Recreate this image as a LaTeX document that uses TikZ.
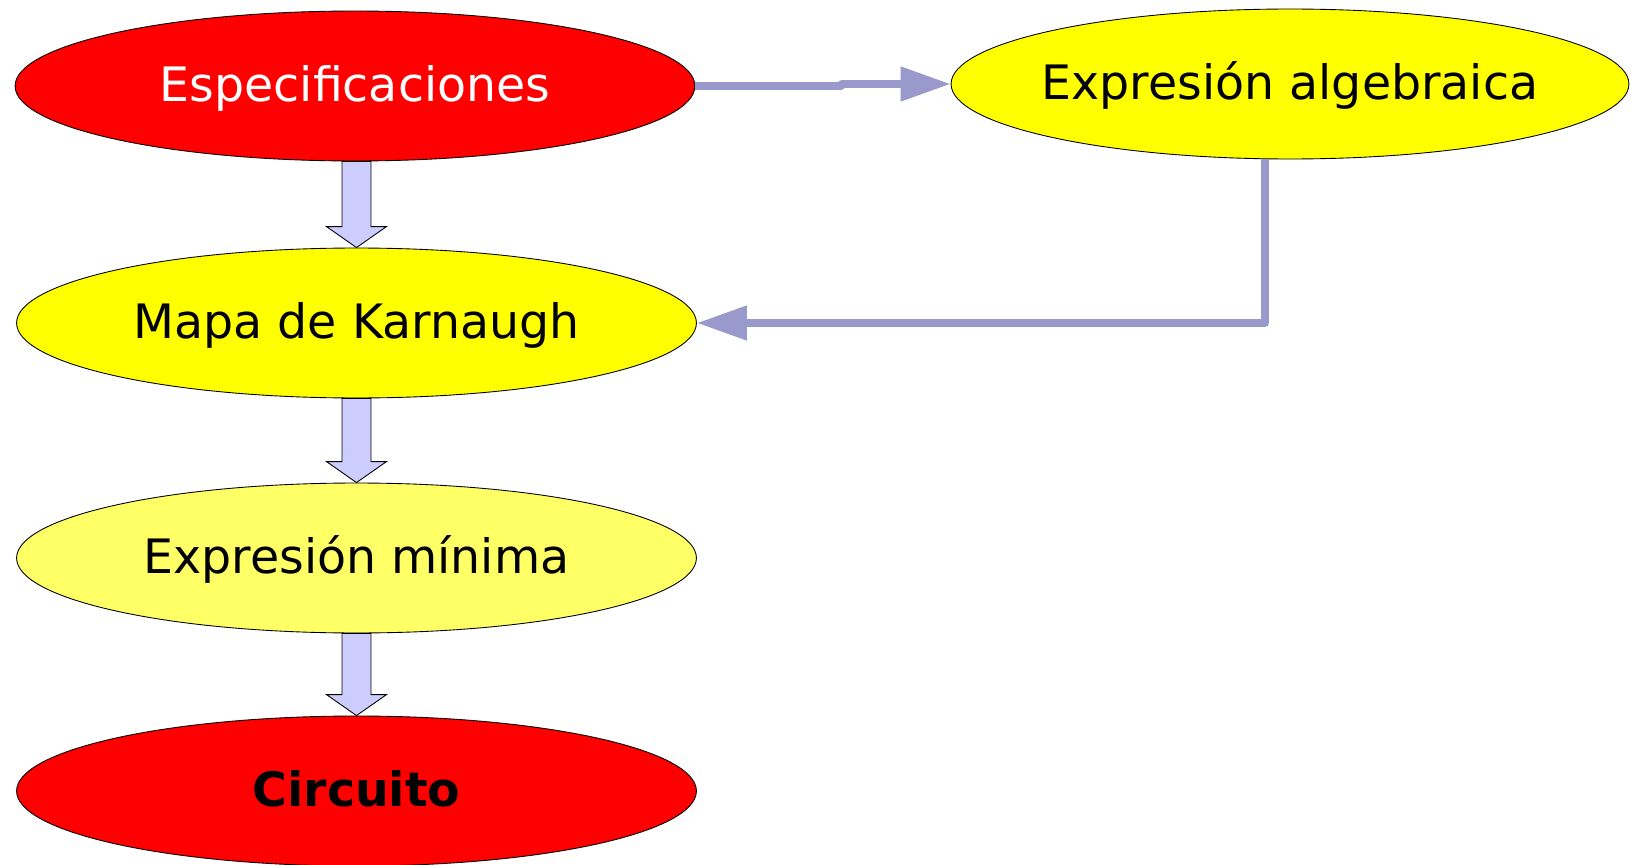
\documentclass[tikz,border=0pt]{standalone}
\usepackage{fontspec}
\setmainfont{DejaVu Sans}
\usetikzlibrary{shapes.geometric, calc, arrows.meta}

\definecolor{flowred}{HTML}{FF0000}
\definecolor{flowyellow}{HTML}{FFFF00}
\definecolor{flowpale}{HTML}{FFFF66}
\definecolor{linkblue}{HTML}{9999CC}
\definecolor{blockfill}{HTML}{CCCCFF}

\tikzset{
  stage/.style={ellipse, draw=black, line width=0.5pt, inner ysep=0pt, inner xsep=-2cm,
    minimum width=13.6cm, minimum height=3cm, text height=24pt, text depth=6.5pt,
    font=\fontsize{27}{32}\selectfont},
  link/.style={draw=linkblue, line width=4.3pt, line join=round,
    -{Triangle[length=1cm, width=0.66cm]}},
  blockarrow/.style={fill=blockfill, draw=black, line width=0.5pt, line join=miter}
}

\newcommand\blockdown[2]{%
  \draw[blockarrow] ($(#1.south -| #2.north)+(-14.5,0)$) -- ($(#2.north)+(-14.5,-21)$)
    -- ($(#2.north)+(-30,-21)$) -- (#2.north) -- ($(#2.north)+(30,-21)$)
    -- ($(#2.north)+(14.5,-21)$) -- ($(#1.south -| #2.north)+(14.5,0)$) -- cycle;}

\begin{document}
\begin{tikzpicture}[x=0.02cm, y=-0.02cm]
        \useasboundingbox (0, 0) rectangle (1630, 865);

        \node[stage, fill=flowred, text=white] (spec) at (355, 86) {Especificaciones};
        \node[stage, fill=flowyellow, minimum width=13.56cm] (alg) at (1290, 84) {Expresión algebraica};
        \node[stage, fill=flowyellow] (kmap) at (356.5, 323) {Mapa de Karnaugh};
        \node[stage, fill=flowpale] (minexp) at (356.5, 558) {Expresión mínima};
        \node[stage, fill=flowred, font=\fontsize{27}{32}\selectfont\bfseries] (circ) at (356.5, 791) {Circuito};

        \blockdown{spec}{kmap}
        \blockdown{kmap}{minexp}
        \blockdown{minexp}{circ}

        \draw[link] (spec.east) -- ++(146, 0) |- (alg.west);
        \draw[link] ($(alg.south)+(-25, 0)$) |- (kmap.east);
      \end{tikzpicture}
\end{document}
